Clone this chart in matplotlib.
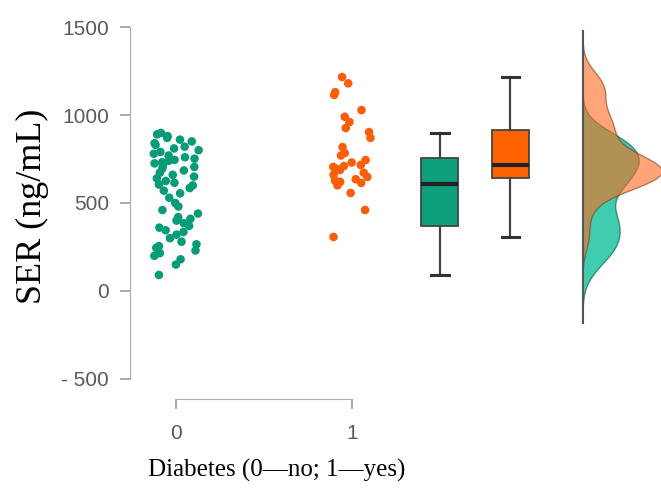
import numpy as np
import matplotlib.pyplot as plt

# SER values (ng/mL)
no_diabetes = [91, 150, 180, 200, 215, 230, 245, 255, 265, 280, 300, 320, 335, 345, 360,
               370, 385, 400, 410, 420, 440, 460, 480, 500, 530, 555, 570, 585, 600, 605,
               615, 625, 640, 650, 660, 672, 685, 695, 705, 715, 725, 732, 740, 745, 752,
               760, 770, 780, 790, 800, 810, 820, 830, 840, 850, 860, 870, 880, 890, 898]
yes_diabetes = [307, 460, 557, 600, 614, 620, 628, 635, 648, 660, 672, 687, 695, 705, 710,
                716, 730, 744, 770, 784, 818, 870, 903, 926, 960, 990, 1028, 1114, 1130,
                1180, 1216]

group_ticks = [0, 1]
group_labels = ['0', '1']
y_ticks = [-500, 0, 500, 1000, 1500]
y_tick_labels = ['- 500', '0', '500', '1000', '1500']

green = '#079c78'
orange = '#fb5e08'


def gauss_kde(values, grid, bw_scale=1.0):
    v = np.asarray(values, dtype=float)
    bw = bw_scale * v.std(ddof=1) * len(v) ** (-1 / 5)
    d = (grid[:, None] - v[None, :]) / bw
    return np.exp(-0.5 * d ** 2).sum(axis=1) / (len(v) * bw * np.sqrt(2 * np.pi))


fig = plt.figure(figsize=(6.61, 4.90), dpi=100)
ax = fig.add_axes([130 / 661, 91 / 490, 531 / 661, 379 / 490])

# jittered strip points
rng = np.random.default_rng(11)
for pos, vals, col, spread in [(0, no_diabetes, green, 0.13), (1, yes_diabetes, orange, 0.11)]:
    xj = pos + rng.uniform(-spread, spread, len(vals))
    ax.scatter(xj, vals, s=38, color=col, edgecolor='none', zorder=3)

# box plots
bp = ax.boxplot([no_diabetes, yes_diabetes], positions=[1.5, 1.9], widths=0.21,
                patch_artist=True, showfliers=False, manage_ticks=False,
                whiskerprops=dict(color='#444444', linewidth=1.6),
                capprops=dict(color='#333333', linewidth=2.2),
                medianprops=dict(color='#222222', linewidth=3),
                boxprops=dict(edgecolor='#444444', linewidth=1.3))
for patch, col in zip(bp['boxes'], ['#0ea07d', '#ff6200']):
    patch.set_facecolor(col)
for cap in bp['caps']:
    m = np.mean(cap.get_xdata())
    cap.set_xdata([m - 0.05, m + 0.05])

# half densities on the right
base = 2.31
grid = np.linspace(-180, 1480, 400)
d_no = gauss_kde(no_diabetes, grid, 0.8)
d_yes = gauss_kde(yes_diabetes, grid, 0.72)
scale = 0.45 / d_yes.max()
ax.fill_betweenx(grid, base, base + d_no * scale, color='#00bc95', alpha=0.75,
                 edgecolor='#1f6f5a', linewidth=1, zorder=2)
ax.fill_betweenx(grid, base, base + d_yes * scale, color='#ff6a1c', alpha=0.6,
                 edgecolor='#7a4020', linewidth=1, zorder=2)
ax.plot([base, base], [-180, 1480], color='#555555', linewidth=1.5, zorder=4)

ax.set_xlim(-0.261, 2.756)
ax.set_ylim(-614, 1540)

for s in ['top', 'right']:
    ax.spines[s].set_visible(False)
ax.spines['left'].set_bounds(-500, 1500)
ax.spines['bottom'].set_bounds(0, 1)
ax.spines['left'].set_color('#aaaaaa')
ax.spines['bottom'].set_color('#aaaaaa')

ax.set_yticks(y_ticks)
ax.set_yticklabels(y_tick_labels, fontsize=15, family='Liberation Sans')
ax.set_xticks(group_ticks)
ax.set_xticklabels(group_labels, fontsize=15, family='Liberation Sans')
ax.tick_params(axis='both', colors='#999999', length=7, width=1.2, labelcolor='#5a5a5a')
ax.tick_params(axis='y', pad=8)
ax.tick_params(axis='x', pad=11)

ax.set_ylabel('SER (ng/mL)', family='Liberation Serif', fontsize=26)
ax.yaxis.set_label_coords(-0.152, 0.509)
fig.text(277 / 661, 1 - 470 / 490, 'Diabetes (0\u2014no; 1\u2014yes)', family='Liberation Serif',
         fontsize=18, ha='center', va='center')

fig.savefig('out.png', dpi=100)
